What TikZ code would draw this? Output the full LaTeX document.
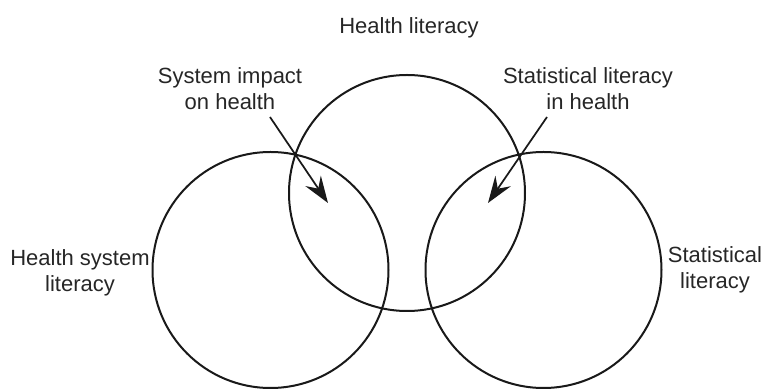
\documentclass[tikz,border=0pt]{standalone}
\usepackage{fontspec}
\setmainfont{Liberation Sans}
\usetikzlibrary{arrows.meta}

\begin{document}
\begin{tikzpicture}[
        x=0.75pt, y=0.75pt,
        every node/.style={align=center, font=\fontsize{16.5}{19.5}\selectfont, text=black!85},
        set/.style={circle, draw=black!90, line width=1.5pt, inner sep=0pt, minimum size=177pt},
        pointer/.style={-{Stealth[length=20pt, width=14pt, inset=7pt]}, draw=black!90, line width=1.3pt}
    ]
    \useasboundingbox (0,0) rectangle (769,389);

    % Sets
    \node[set] (hl) at (407,196) {};
    \node[set] (hs) at (270.5,119) {};
    \node[set] (sl) at (543.5,119) {};

    % Set labels
    \node (hltext) at (409,361) {Health literacy};
    \node (hstext) at (80,116) {Health system\\literacy};
    \node (sltext) at (715,119) {Statistical\\literacy};

    % Overlap labels
    \node (impact) at (230,300) {System impact\\on health};
    \node (statshealth) at (588,300) {Statistical literacy\\in health};

    % Arrow ends
    \coordinate (impactfrom) at (270,272);
    \coordinate (impactto) at (328,186);
    \coordinate (statsfrom) at (547,272);
    \coordinate (statsto) at (488,186);

    % Pointers into the overlaps
    \draw[pointer] (impactfrom) -- (impactto);
    \draw[pointer] (statsfrom) -- (statsto);

\end{tikzpicture}
\end{document}
